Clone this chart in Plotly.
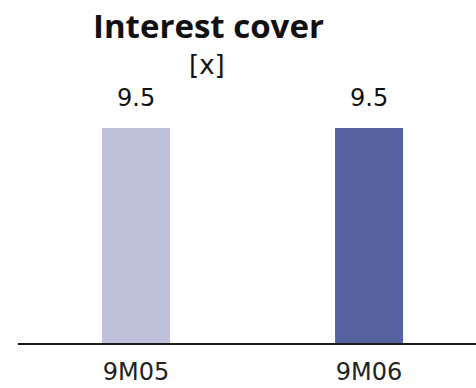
import plotly.graph_objects as go

categories = ["9M05", "9M06"]
values = [9.5, 9.5]
value_labels = ["9.5", "9.5"]
bar_colors = ["#BFC1DC", "#5462A0"]
title_text = "Interest cover"
unit_text = "[x]"

W, H = 476, 388
m_l, m_r, m_t, m_b = 18, 0, 128, 45
plot_top, plot_bot = m_t, H - m_b
plot_h = plot_bot - plot_top
plot_w = W - m_l - m_r


def py(p):
    return (plot_bot - p) / plot_h


def px(p):
    return (p - m_l) / plot_w


x_pos = list(range(len(categories)))

fig = go.Figure()
fig.add_trace(go.Bar(
    x=x_pos, y=values, width=0.292,
    marker=dict(color=bar_colors, line=dict(width=0)),
    hoverinfo="skip",
))

annotations = [
    dict(text="<b>" + title_text + "</b>", xref="paper", yref="paper", x=px(208), y=py(25),
         xanchor="center", yanchor="middle", showarrow=False,
         font=dict(family="Open Sans", size=33, color="#111111")),
    dict(text=unit_text, xref="paper", yref="paper", x=px(207), y=py(65),
         xanchor="center", yanchor="middle", showarrow=False,
         font=dict(family="DejaVu Sans", size=26, color="#111111")),
]
for xi, lab in zip(x_pos, value_labels):
    annotations.append(dict(text=lab, xref="x", yref="paper", x=xi, y=py(98),
                            xanchor="center", yanchor="middle", showarrow=False,
                            font=dict(family="DejaVu Sans", size=24, color="#111111")))

fig.update_layout(
    width=W, height=H,
    margin=dict(l=m_l, r=m_r, t=m_t, b=m_b, pad=0, autoexpand=False),
    paper_bgcolor="white", plot_bgcolor="white",
    showlegend=False,
    xaxis=dict(
        range=[-0.5064, 1.459], tickmode="array", tickvals=x_pos, ticktext=categories,
        showgrid=False, zeroline=False, showline=True, linecolor="#1a1a1a", linewidth=1.5,
        ticks="", ticklabelstandoff=6, automargin=False,
        tickfont=dict(family="DejaVu Sans", size=24, color="#222222"),
        fixedrange=True,
    ),
    yaxis=dict(range=[0, 9.5], visible=False, fixedrange=True, automargin=False),
    annotations=annotations,
)

fig.write_html("out.html")
